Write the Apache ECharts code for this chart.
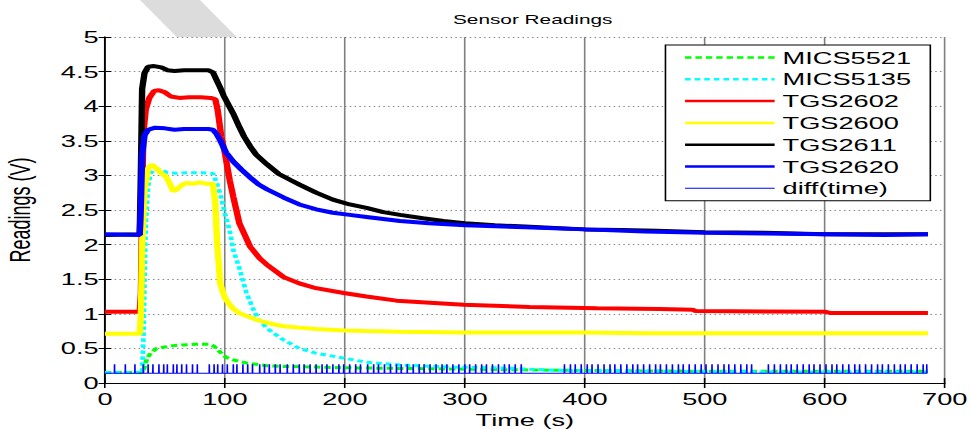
<!DOCTYPE html>
<html>
<head>
<meta charset="utf-8">
<script src="https://cdn.jsdelivr.net/npm/echarts@6/dist/echarts.min.js"></script>
<style>
  html, body { margin: 0; padding: 0; background: #fff; overflow: hidden; }
  /* the figure is a horizontally stretched matlab plot, so draw narrow and stretch */
  #main { width: 607px; height: 429px; transform: scaleX(1.59967); transform-origin: 0 0; }
</style>
</head>
<body>
<div id="main"></div>
<script>
// series names (legend order)
var names = ['MICS5521', 'MICS5135', 'TGS2602', 'TGS2600', 'TGS2611', 'TGS2620', 'diff(time)'];

// axes
var xMin = 0, xMax = 700, xStep = 100;
var yMin = 0, yMax = 5, yStep = 0.5;

// [time (s), reading (V)]
var mics5521 = [[0,0.15],[30,0.15],[32,0.18],[35,0.35],[38,0.43],[43,0.5],[50,0.52],[57,0.54],[65,0.55],[75,0.56],[87,0.56],[91,0.53],[94,0.48],[97,0.43],[101,0.37],[106,0.34],[112,0.31],[118,0.29],[126,0.27],[135,0.25],[149,0.24],[176,0.23],[200,0.22],[250,0.21],[300,0.2],[350,0.19],[400,0.18],[500,0.17],[600,0.17],[686,0.17]];

var mics5135 = [[0,0.15],[31,0.15],[32,0.6],[33,1.5],[34,2.3],[36,2.85],[38,3.03],[42,3.1],[47,3.08],[52,3.04],[60,3.03],[70,3.04],[80,3.04],[90,3.03],[93,2.9],[96,2.74],[100,2.45],[104,2.2],[107,1.92],[112,1.66],[118,1.3],[124,1.05],[128,0.92],[135,0.79],[149,0.62],[162,0.5],[176,0.43],[199,0.36],[218,0.3],[246,0.26],[290,0.23],[326,0.22],[382,0.18],[450,0.17],[550,0.16],[686,0.16]];

var tgs2602 = [[0,1.03],[29,1.03],[30,1.3],[31,2.6],[32,3.6],[34,3.95],[37,4.12],[41,4.22],[45,4.23],[50,4.2],[55,4.14],[62,4.12],[70,4.13],[80,4.13],[88,4.12],[92,4.1],[94,3.94],[97,3.56],[100,3.32],[104,2.93],[107,2.69],[112,2.31],[121,1.97],[129,1.8],[135,1.71],[149,1.53],[162,1.44],[176,1.37],[199,1.3],[218,1.25],[243,1.19],[299,1.13],[354,1.1],[410,1.08],[462,1.07],[490,1.06],[492,1.04],[600,1.03],[605,1.01],[686,1.01]];

var tgs2600 = [[0,0.71],[29,0.71],[30,1.0],[31,2.0],[33,2.8],[36,3.1],[39,3.16],[43,3.1],[47,3.03],[51,2.98],[54,2.88],[57,2.77],[60,2.8],[64,2.86],[68,2.89],[74,2.88],[79,2.9],[84,2.88],[90,2.88],[92,2.6],[93,2.21],[94,1.9],[95,1.7],[96,1.44],[98,1.33],[100,1.23],[104,1.13],[107,1.07],[112,1.01],[118,0.97],[124,0.93],[129,0.9],[140,0.85],[149,0.82],[162,0.8],[176,0.78],[200,0.76],[218,0.75],[246,0.74],[300,0.73],[400,0.73],[450,0.72],[686,0.72]];

var tgs2611 = [[0,2.14],[29,2.15],[30,3.1],[31,4.25],[33,4.48],[36,4.57],[41,4.58],[47,4.56],[52,4.52],[58,4.51],[66,4.52],[76,4.52],[86,4.52],[90,4.49],[93,4.38],[96,4.27],[99,4.15],[103,4.02],[107,3.89],[112,3.7],[116,3.56],[121,3.42],[126,3.3],[135,3.16],[145,3.02],[155,2.93],[163,2.86],[176,2.75],[190,2.65],[204,2.58],[218,2.53],[232,2.47],[246,2.43],[265,2.38],[282,2.34],[300,2.31],[325,2.28],[350,2.26],[375,2.24],[400,2.22],[430,2.21],[460,2.2],[500,2.18],[550,2.17],[600,2.15],[650,2.15],[686,2.15]];

var tgs2620 = [[0,2.15],[29,2.14],[30,2.6],[31,3.3],[33,3.58],[36,3.66],[42,3.69],[50,3.68],[58,3.66],[66,3.67],[76,3.67],[86,3.67],[90,3.66],[93,3.6],[96,3.51],[101,3.33],[107,3.2],[114,3.08],[121,2.97],[128,2.87],[135,2.8],[149,2.68],[162,2.58],[176,2.51],[190,2.46],[204,2.43],[218,2.4],[232,2.37],[246,2.34],[270,2.31],[300,2.28],[350,2.25],[400,2.22],[450,2.19],[500,2.17],[550,2.16],[600,2.15],[650,2.14],[686,2.15]];

// diff(time): flat level with short spikes at these times
var diffBase = 0.14, diffPeak = 0.27, diffEnd = 686;
var diffSpikes = [8,17,25,32,36,40,45,49,52,57,60,64,68,73,77,87,91,94,98,102,107,110,115,119,123,129,133,137,142,146,152,
  157,162,166,171,176,181,185,190,195,199,204,209,213,219,224,228,233,238,243,247,252,257,262,266,271,276,281,285,290,295,300,
  304,309,314,318,323,328,333,337,342,347,383,388,392,397,402,406,411,416,421,425,430,435,440,444,449,454,459,463,468,473,478,
  482,487,492,497,501,506,511,516,520,525,530,535,539,553,558,563,568,572,577,582,587,591,596,601,606,610,615,620,625,629,634,
  639,644,648,653,658,663,667,672,677,682,685];

function diffData() {
    var d = [[0, diffBase]];
    for (var i = 0; i < diffSpikes.length; i++) {
        var t = diffSpikes[i];
        d.push([t - 0.1, diffBase], [t, diffPeak], [t + 0.1, diffBase]);
    }
    d.push([diffEnd, diffBase]);
    return d;
}

function line(name, data, color, width, dash) {
    return {
        type: 'line',
        name: name,
        data: data,
        symbol: 'none',
        silent: true,
        lineStyle: { color: color, width: width, type: dash || 'solid', cap: 'butt' },
        itemStyle: { color: color }
    };
}

// legend rows: thick for sensors, thin for diff(time)
var legendData = names.map(function (n) {
    return { name: n, lineStyle: { width: n === 'diff(time)' ? 1 : 2.5 } };
});

var font = 'Liberation Sans';

var option = {
    animation: false,
    backgroundColor: '#fff',
    title: {
        text: 'Sensor Readings',
        left: 328, top: 8, textAlign: 'center',
        textStyle: { fontFamily: font, fontSize: 13, fontWeight: 'normal', color: '#000' }
    },
    graphic: [{
        type: 'polygon', z: -10,
        shape: { points: [[87.5, 0], [125, 0], [148, 37], [110.5, 37]] },
        style: { fill: '#dcdcdc' }
    }],
    legend: {
        data: legendData,
        orient: 'vertical',
        left: 416, top: 45,
        padding: [4, 12, 4, 11],
        itemGap: 4.8,
        itemWidth: 56, itemHeight: 14,
        backgroundColor: '#fff',
        borderColor: '#000', borderWidth: 1,
        itemStyle: { opacity: 0 },
        textStyle: { fontFamily: font, fontSize: 17, color: '#000' }
    },
    grid: { left: 65.6, right: 16.4, top: 37, bottom: 46, containLabel: false, outerBoundsMode: 'none' },
    xAxis: [{
        type: 'value', min: xMin, max: xMax, interval: xStep,
        name: 'Time (s)', nameLocation: 'middle', nameGap: 25,
        nameTextStyle: { fontFamily: font, fontSize: 17, color: '#000' },
        axisLine: { lineStyle: { color: '#000', width: 1 } },
        axisTick: { inside: true, length: 5, lineStyle: { color: '#000' } },
        axisLabel: { fontFamily: font, fontSize: 17, color: '#000', margin: 7 },
        splitLine: { show: true, lineStyle: { color: '#808080', width: 1 } }
    }, {
        type: 'value', position: 'top', min: xMin, max: xMax, interval: xStep,
        axisLine: { show: true, lineStyle: { color: '#000', width: 1 } },
        axisTick: { show: true, inside: true, length: 5, lineStyle: { color: '#000' } },
        axisLabel: { show: false },
        splitLine: { show: false }
    }],
    yAxis: [{
        type: 'value', min: yMin, max: yMax, interval: yStep,
        name: 'Readings (V)', nameLocation: 'middle', nameGap: 44, nameRotate: 90,
        nameTextStyle: { fontFamily: font, fontSize: 18, color: '#000' },
        axisLine: { show: true, lineStyle: { color: '#000', width: 1 } },
        axisTick: { show: true, inside: true, length: 4, lineStyle: { color: '#000' } },
        axisLabel: { fontFamily: font, fontSize: 17, color: '#000', margin: 4 },
        splitLine: { show: true, lineStyle: { color: '#8c8c8c', width: 1, type: [1, 2] } }
    }, {
        type: 'value', position: 'right', min: yMin, max: yMax, interval: yStep,
        axisLine: { show: true, lineStyle: { color: '#000', width: 1 } },
        axisTick: { show: true, inside: true, length: 4, lineStyle: { color: '#000' } },
        axisLabel: { show: false },
        splitLine: { show: false }
    }],
    series: [
        line(names[0], mics5521, '#00ff00', 3, [4, 2.5]),
        line(names[1], mics5135, '#00ffff', 3, [3.5, 2.5]),
        line(names[2], tgs2602, '#ff0000', 4),
        line(names[3], tgs2600, '#ffff00', 4),
        line(names[4], tgs2611, '#000000', 4),
        line(names[5], tgs2620, '#0000ff', 4),
        line(names[6], diffData(), '#0000ff', 1)
    ]
};

var chart = echarts.init(document.getElementById('main'), null, { renderer: 'svg' });
chart.setOption(option);
</script>
</body>
</html>
